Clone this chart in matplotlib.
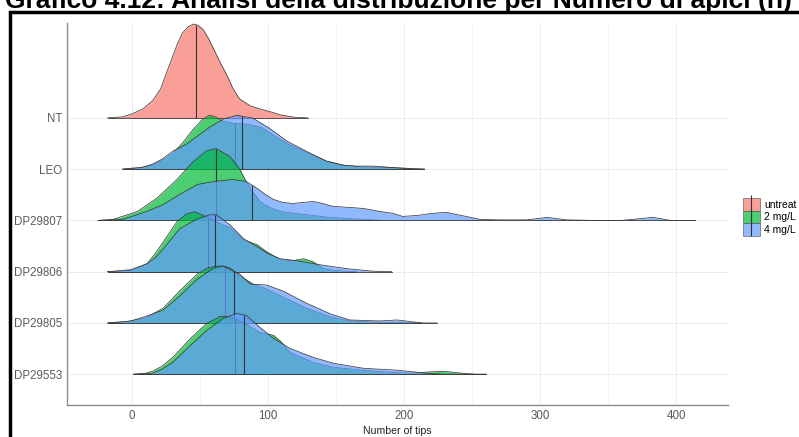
import numpy as np
import matplotlib.pyplot as plt
from matplotlib.patches import Patch, Rectangle
from matplotlib.lines import Line2D
from matplotlib.legend_handler import HandlerTuple

plt.rcParams['font.family'] = ['Liberation Sans', 'DejaVu Sans']

# righe dal basso verso l'alto
categorie = ['DP29553', 'DP29805', 'DP29806', 'DP29807', 'LEO', 'NT']
gruppi = ['untreat', '2 mg/L', '4 mg/L']
colori = {'untreat': '#F8766D', '2 mg/L': '#00BA38', '4 mg/L': '#619CFF'}

# curve di densita' (numero di apici, altezza relativa)
nt_x = [-18, -7, 0, 8, 15, 21, 25, 30, 33, 37, 41, 45, 48, 52, 56, 60, 65, 70, 74, 79, 87, 94, 102, 109, 120, 129]
nt_d = [0, 1, 4, 9, 17, 29, 44, 62, 73, 85, 91, 94, 93, 89, 80, 69, 55, 42, 30, 19, 12, 9, 6, 3, 0.5, 0]
nt_med = 47

leo2_x = [-7, 5, 15, 25, 30, 37, 45, 52, 57, 62, 67, 75, 85, 95, 105, 115, 128, 143, 155, 170, 185, 200, 215]
leo2_d = [0, 1, 4, 11, 16, 26, 40, 50, 54, 52, 48, 46, 45, 42, 33, 25, 17, 8, 4, 2, 2, 1, 0]
leo2_med = 76
leo4_x = [-7, 0, 8, 15, 22, 30, 40, 48, 57, 67, 77, 89, 101, 114, 128, 143, 155, 165, 177, 187, 197, 207, 215]
leo4_d = [0, 1, 2, 5, 10, 18, 25, 33, 42, 50, 54, 51, 41, 28, 18, 8, 4, 3, 3, 2, 1, 0, 0]
leo4_med = 81

d807_2_x = [-25, -14, 4, 18, 33, 45, 55, 62, 72, 79, 83, 88, 94, 101, 109, 120, 133, 145, 158, 170, 185]
d807_2_d = [0, 1, 9, 22, 41, 59, 70, 72, 64, 52, 41, 30, 19, 13, 9, 7, 5, 3, 2, 1, 0]
d807_2_med = 62
d807_4_x = [-25, -7, 11, 23, 35, 48, 60, 74, 84, 92, 98, 104, 111, 118, 126, 133, 140, 148, 160, 170,
            182, 192, 199, 210, 220, 231, 242, 256, 270, 290, 305, 320, 340, 360, 383, 396, 414]
d807_4_d = [0, 1, 9, 16, 26, 36, 39, 41, 39, 32, 26, 21, 18, 17, 18, 19, 17, 14, 13, 12,
            9, 7, 4, 5, 7, 8, 5, 1, 0.5, 0.5, 3, 0.5, 0, 0, 3, 0, 0]
d807_4_med = 88

d806_2_x = [-18, -7, 0, 11, 17, 23, 33, 40, 46, 55, 62, 72, 82, 92, 99, 109, 118, 126, 133, 141, 150, 165]
d806_2_d = [0, 0.5, 1.5, 8, 18, 30, 50, 58, 60, 55, 50, 44, 32, 27, 20, 12, 11, 13, 10, 3, 1, 0]
d806_2_med = 56
d806_4_x = [-18, -1, 11, 17, 23, 35, 48, 57, 62, 72, 82, 92, 100, 109, 121, 138, 158, 177, 191]
d806_4_d = [0, 2, 8, 14, 23, 43, 53, 57, 57, 47, 33, 25, 18, 13, 11, 7, 3, 0.5, 0]
d806_4_med = 61

d805_2_x = [-18, -5, 10, 23, 35, 48, 55, 62, 67, 72, 82, 89, 99, 111, 128, 146, 160, 175, 190, 213]
d805_2_d = [0, 1, 5, 15, 32, 49, 55, 57, 57, 55, 45, 39, 34, 26, 15, 6, 2, 1, 0.5, 0]
d805_2_med = 68
d805_4_x = [-18, -1, 11, 23, 35, 48, 60, 67, 79, 87, 99, 111, 128, 146, 160, 182, 195, 207, 213, 224]
d805_4_d = [0, 2, 7, 13, 27, 44, 55, 57, 49, 39, 38, 32, 20, 9, 3, 2, 3, 1, 0, 0]
d805_4_med = 75

d553_2_x = [1, 10, 15, 22, 30, 43, 55, 65, 70, 77, 84, 94, 104, 110, 116, 133, 148, 170, 190, 205, 215, 229, 243, 253, 260]
d553_2_d = [0, 1, 3, 8, 17, 36, 51, 58, 58, 55, 50, 42, 39, 32, 22, 12, 7, 4, 2, 1, 2, 3, 1, 0, 0]
d553_2_med = 76
d553_4_x = [1, 10, 15, 22, 30, 43, 55, 67, 77, 84, 94, 104, 116, 133, 148, 170, 195, 217, 230, 260]
d553_4_d = [0, 0.5, 1, 5, 12, 29, 44, 56, 61, 59, 47, 36, 26, 17, 11, 6, 4, 1, 0, 0]
d553_4_med = 82

# (categoria, gruppo, x, densita', mediana) nell'ordine di disegno: dall'alto in basso
creste = [
    ('NT', 'untreat', nt_x, nt_d, nt_med),
    ('LEO', '2 mg/L', leo2_x, leo2_d, leo2_med),
    ('LEO', '4 mg/L', leo4_x, leo4_d, leo4_med),
    ('DP29807', '2 mg/L', d807_2_x, d807_2_d, d807_2_med),
    ('DP29807', '4 mg/L', d807_4_x, d807_4_d, d807_4_med),
    ('DP29806', '2 mg/L', d806_2_x, d806_2_d, d806_2_med),
    ('DP29806', '4 mg/L', d806_4_x, d806_4_d, d806_4_med),
    ('DP29805', '2 mg/L', d805_2_x, d805_2_d, d805_2_med),
    ('DP29805', '4 mg/L', d805_4_x, d805_4_d, d805_4_med),
    ('DP29553', '2 mg/L', d553_2_x, d553_2_d, d553_2_med),
    ('DP29553', '4 mg/L', d553_4_x, d553_4_d, d553_4_med),
]
scala = 1 / 51.4  # altezza densita' -> frazione di riga

fig = plt.figure(figsize=(7.99, 4.37), dpi=100)
ax = fig.add_axes([0.0839, 0.0732, 0.8273, 0.8742])

z = 2
for cat, gr, x, d, med in creste:
    y0 = categorie.index(cat) + 1
    x = np.array(x, dtype=float)
    y = y0 + np.array(d) * scala
    ax.fill_between(x, y0, y, color=colori[gr], alpha=0.7, lw=0, zorder=z)
    ax.plot(x, y, color='#3A3A3A', lw=0.55, zorder=z + 0.1, solid_joinstyle='round')
    ax.plot([x[0], x[-1]], [y0, y0], color='#3A3A3A', lw=0.6, zorder=z + 0.1)
    hm = np.interp(med, x, np.array(d)) * scala
    ax.vlines(med, y0, y0 + hm, color='#333333', lw=0.8, zorder=z + 0.2)
    z += 1

ax.set_xlim(-47.8, 438.2)
ax.set_ylim(0.4, 7.85)
ax.set_xticks([0, 100, 200, 300, 400])
ax.set_xticks([50, 150, 250, 350], minor=True)
ax.set_yticks(range(1, len(categorie) + 1))
ax.set_yticklabels(categorie)
ax.set_axisbelow(True)
ax.grid(True, which='major', color='#EBEBEB', lw=0.7)
ax.grid(True, which='minor', axis='x', color='#F0F0F0', lw=0.6)
ax.tick_params(which='both', length=0)
ax.tick_params(axis='y', labelsize=8.3, labelcolor='#5A5A5A', pad=3.5)
ax.tick_params(axis='x', labelsize=8.3, labelcolor='#5A5A5A', pad=3.3)
for s in ['top', 'right']:
    ax.spines[s].set_visible(False)
for s in ['left', 'bottom']:
    ax.spines[s].set_color('#8C8C8C')
    ax.spines[s].set_linewidth(1.0)
ax.set_xlabel('Number of tips', fontsize=7.6, color='#222222', labelpad=3)

# legenda con la linea della mediana dentro ogni chiave
maniglie = [(Patch(facecolor=colori[g], edgecolor='#555555', alpha=0.7, lw=0.6),
             Line2D([], [], marker='|', color='#333333', ls='none', markersize=11, mew=0.8))
            for g in gruppi]
fig.legend(maniglie, gruppi, handler_map={tuple: HandlerTuple(ndivide=1)},
           loc='center left', bbox_to_anchor=(0.930, 0.5034), frameon=False,
           fontsize=7.5, handlelength=1.6, handleheight=1.5, handletextpad=0.4,
           labelspacing=0.0, borderpad=0, borderaxespad=0)

fig.text(0.006, 1 - 8 / 437, 'Grafico 4.12: Analisi della distribuzione per Numero di apici (n)',
         fontsize=19, fontweight='bold', va='baseline', ha='left')
fig.patches.append(Rectangle((10 / 799, -0.1), 1.2, 1 - 11.5 / 437 + 0.1, transform=fig.transFigure,
                             fill=False, ec='black', lw=2.5))

fig.savefig('out.png', dpi=100)
